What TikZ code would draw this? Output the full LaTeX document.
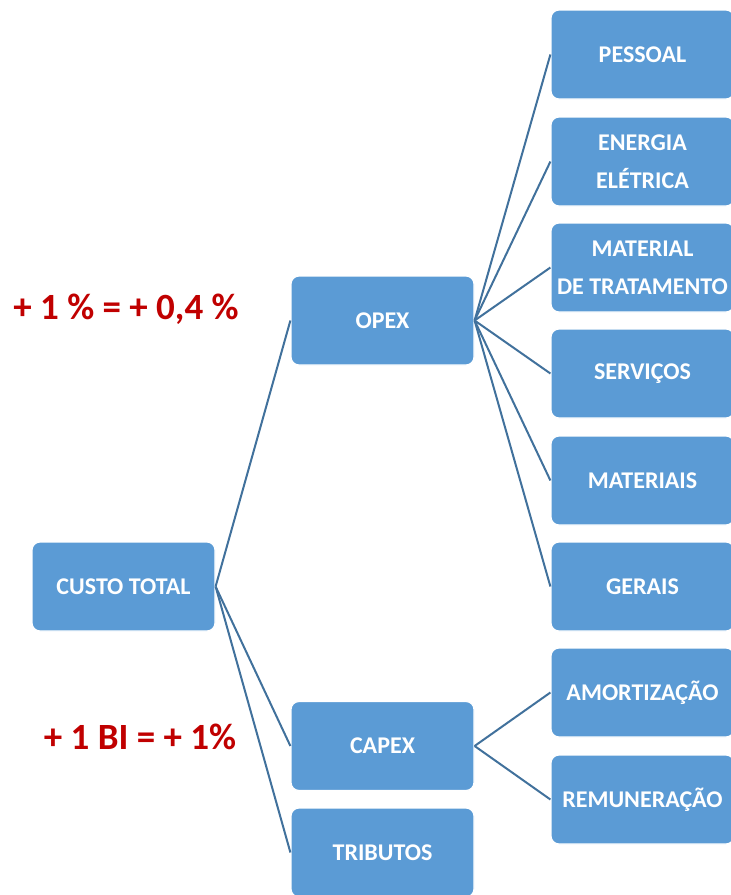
\documentclass[tikz,border=0pt]{standalone}
\usepackage{fontspec}
\setmainfont{Carlito}
\usepackage{xcolor}
\definecolor{boxblue}{RGB}{91,155,213}
\definecolor{lineblue}{RGB}{65,113,156}
\definecolor{myred}{RGB}{192,0,0}
\tikzstyle{costbox}=[fill=boxblue,draw=white,line width=0.6pt,rounded corners=4pt,
  minimum width=91.5pt,minimum height=44.5pt,inner sep=0pt,align=center,
  text=white,font=\fontsize{12}{19}\selectfont\bfseries]
\tikzstyle{branch}=[lineblue,line width=1pt]
\tikzstyle{note}=[myred,font=\fontsize{18.5}{22}\selectfont\bfseries]
\def\xa{123.5}
\def\xb{382.5}
\def\xc{642.5}

\begin{document}
\begin{tikzpicture}[x=0.5pt,y=-0.5pt]
      \useasboundingbox (0,0) rectangle (730,895);

      % BOXES
      \node[costbox] (total) at (\xa,586.5) {CUSTO TOTAL};
      \node[costbox] (opex) at (\xb,320.5) {OPEX};
      \node[costbox] (capex) at (\xb,746) {CAPEX};
      \node[costbox] (tributos) at (\xb,852.5) {TRIBUTOS};
      \node[costbox] (pessoal) at (\xc,54.5) {PESSOAL};
      \node[costbox] (energia) at (\xc,161.5) {ENERGIA\\ELÉTRICA};
      \node[costbox] (tratamento) at (\xc,267.5) {MATERIAL\\DE TRATAMENTO};
      \node[costbox] (servicos) at (\xc,373.5) {SERVIÇOS};
      \node[costbox] (materiais) at (\xc,480.5) {MATERIAIS};
      \node[costbox] (gerais) at (\xc,586.5) {GERAIS};
      \node[costbox] (amortizacao) at (\xc,692.5) {AMORTIZAÇÃO};
      \node[costbox] (remuneracao) at (\xc,799.5) {REMUNERAÇÃO};

      % BRANCHES
      \draw[branch] (total.east) -- (opex.west);
      \draw[branch] (total.east) -- (capex.west);
      \draw[branch] (total.east) -- (tributos.west);
      \foreach \n in {pessoal,energia,tratamento,servicos,materiais,gerais}
        \draw[branch] (opex.east) -- (\n.west);
      \draw[branch] (capex.east) -- (amortizacao.west);
      \draw[branch] (capex.east) -- (remuneracao.west);

      % NOTES
      \node[note] (opexnote) at (126,309) {+ 1 \% = + 0,4 \%};
      \node[note] (capexnote) at (140,737) {+ 1 BI = + 1\%};

    \end{tikzpicture}
\end{document}
